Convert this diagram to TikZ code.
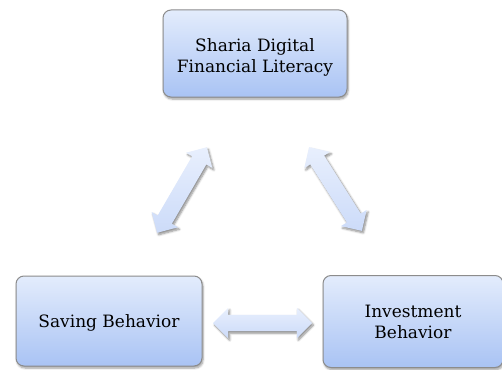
\documentclass[tikz,border=0pt]{standalone}
\usepackage{fontspec}
\setmainfont{DejaVu Serif}
\usetikzlibrary{shapes.arrows,shadows.blur}

\definecolor{boxtop}{HTML}{E3ECFC}
\definecolor{boxbot}{HTML}{A9C3F4}
\definecolor{boxline}{HTML}{8C8C8C}
\definecolor{arrtop}{HTML}{E8EFFD}
\definecolor{arrbot}{HTML}{CCDBF9}

\tikzset{
  conceptbox/.style={
    rectangle, rounded corners=8pt, draw=boxline, line width=1pt,
    top color=boxtop, bottom color=boxbot,
    align=center, font=\fontsize{17}{21}\selectfont, text=black,
    blur shadow={shadow xshift=1pt, shadow yshift=-2pt, shadow blur steps=6, shadow opacity=40},
    inner sep=0pt
  },
  linkarrow/.style={
    double arrow, draw=none,
    top color=arrtop, bottom color=arrbot,
    inner xsep=0pt, inner ysep=8pt, double arrow head extend=7pt,
    double arrow tip angle=90,
    blur shadow={shadow xshift=1.5pt, shadow yshift=-2pt, shadow blur steps=6, shadow opacity=45}
  }
}

\begin{document}
\begin{tikzpicture}[x=1pt,y=-1pt]
  \useasboundingbox (0,0) rectangle (502,369);
  \clip (0,0) rectangle (502,369);

  % the three concepts (the strut lowers the two lines a little in the top box)
  \node[conceptbox, minimum width=184pt, minimum height=87pt] (lit) at (255,53.5)
    {\rule{0pt}{21pt}Sharia Digital\\Financial Literacy};
  \node[conceptbox, minimum width=186pt, minimum height=90pt] (sav) at (109,321)
    {\rule{0pt}{16pt}Saving Behavior};
  \node[conceptbox, minimum width=180pt, minimum height=92pt] (inv) at (413,321.5)
    {Investment\\Behavior};

  % two-way links between them
  \coordinate (l1) at (207,147);
  \coordinate (l2) at (157,233);
  \coordinate (r1) at (309,147);
  \coordinate (r2) at (362,231);
  \coordinate (h1) at (213,323);
  \coordinate (h2) at (312,323);

  \path (l1) -- (l2) node[midway, sloped, linkarrow, minimum height=99pt] (litsav) {};
  \path (r1) -- (r2) node[midway, sloped, linkarrow, minimum height=99pt] (litinv) {};
  \path (h1) -- (h2) node[midway, linkarrow, minimum height=99pt] (savinv) {};
\end{tikzpicture}
\end{document}
